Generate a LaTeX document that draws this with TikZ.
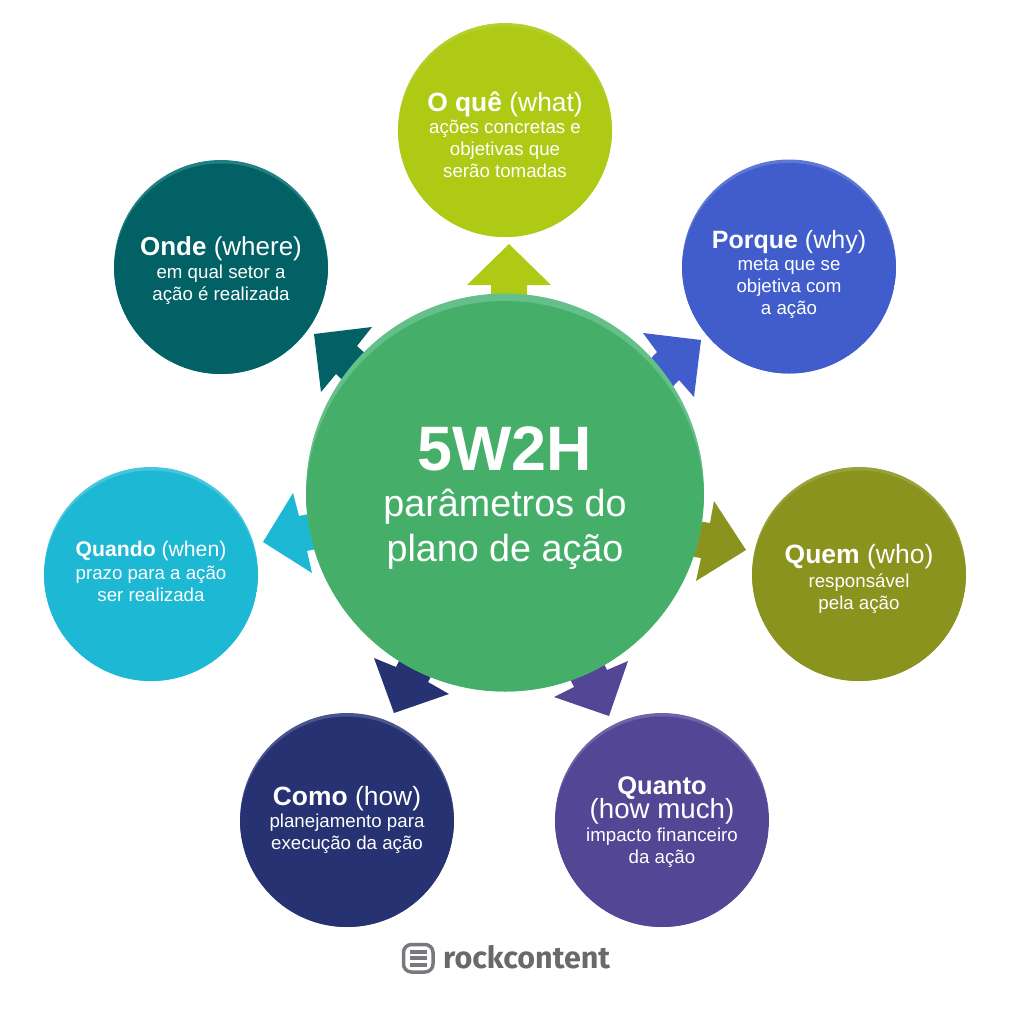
\documentclass[tikz,border=0pt]{standalone}
\usepackage{fontspec}
\setmainfont{Liberation Sans}
\newfontfamily\logofont{Fira Sans}
\lineskiplimit=-100pt
\tikzset{
  x=1pt,y=-1pt,
  txt/.style={text=white,align=center,anchor=north,inner sep=0pt,font=\fontsize{18.7}{22}\selectfont},
  disc/.style={circle,inner sep=0pt,minimum size=214pt},
}
\newcommand{\ttl}[2]{\rule{0pt}{30pt}\fontsize{#1}{22}\selectfont #2}
\definecolor{cwhat}{HTML}{AFCA14}\definecolor{rwhat}{HTML}{B6CE2E}
\definecolor{cwhy}{HTML}{405DCB}\definecolor{rwhy}{HTML}{5F78D6}
\definecolor{cwho}{HTML}{8A931E}\definecolor{rwho}{HTML}{99A13A}
\definecolor{cmuch}{HTML}{534695}\definecolor{rmuch}{HTML}{7063A8}
\definecolor{chow}{HTML}{263272}\definecolor{rhow}{HTML}{4A5590}
\definecolor{cwhen}{HTML}{1CB8D4}\definecolor{rwhen}{HTML}{45C6DE}
\definecolor{cwhere}{HTML}{026164}\definecolor{rwhere}{HTML}{208084}
\definecolor{cmain}{HTML}{45AF6A}\definecolor{rmain}{HTML}{65BF88}
\definecolor{logogray}{HTML}{68696B}
\definecolor{icongray}{HTML}{77797C}
% #1 name, #2 x, #3 y, #4 body colour, #5 rim colour
\newcommand{\disc}[5]{%
  \node[disc,fill=#5] (#1) at (#2,#3) {};
  \begin{scope}
    \clip (#2,#3) circle (107);
    \fill[#4] (#2,#3+3.5) circle (107);
  \end{scope}
}
\begin{document}
\begin{tikzpicture}
\useasboundingbox (0,0) rectangle (1010,1010);
% arrows
\fill[cwhat] (509,244) -- (551,285) -- (527,285) -- (527,310) -- (491,310) -- (491,285) -- (467,285) -- cycle;
\fill[cwhy] (701,340) -- (643,333) -- (657,352) -- (640,370) -- (662,398) -- (679,380) -- (694,397) -- cycle;
\fill[cwho] (746,550) -- (714,501) -- (710,523) -- (680,518) -- (682,555) -- (701,558) -- (696,581) -- cycle;
\fill[cmuch] (609,716) -- (628,661) -- (607,670) -- (597,650) -- (564,667) -- (574,687) -- (554,697) -- cycle;
\fill[chow] (394,713) -- (449,694) -- (428,682) -- (440,660) -- (408,644) -- (396,667) -- (374,658) -- cycle;
\fill[cwhen] (263,542) -- (312,573) -- (307,551) -- (330,546) -- (328,510) -- (299,516) -- (293,493) -- cycle;
\fill[cwhere] (314,334) -- (321,392) -- (336,374) -- (355,392) -- (378,365) -- (357,346) -- (372,327) -- cycle;
% main circle
\node[circle,inner sep=0pt,minimum size=398pt,fill=rmain] (main) at (505,492.5) {};
\begin{scope}
  \clip (505,492.5) circle (199);
  \fill[cmain] (505,500) circle (199);
\end{scope}
% satellites
\disc{what}{505}{130}{cwhat}{rwhat}
\disc{why}{789}{266.5}{cwhy}{rwhy}
\disc{who}{859}{574}{cwho}{rwho}
\disc{much}{662}{820}{cmuch}{rmuch}
\disc{how}{347}{820}{chow}{rhow}
\disc{when}{151}{574}{cwhen}{rwhen}
\disc{where}{221}{267}{cwhere}{rwhere}
% text
\node[txt] (twhat) at (505,81) {\ttl{26.4}{\textbf{O quê} (what)}\\[0.5pt]ações concretas e\\objetivas que\\serão tomadas};
\node[txt] (twhy) at (789,218) {\ttl{25}{\textbf{Porque} (why)}\\meta que se\\objetiva com\\a ação};
\node[txt] (twho) at (859,533) {\ttl{26.5}{\textbf{Quem} (who)}\\[2pt]responsável\\pela ação};
\node[txt] (tmuch) at (662,764) {\ttl{25.5}{\textbf{Quanto}}\\[2pt]\ttl{27.7}{(how much)}\\[1pt]impacto financeiro\\da ação};
\node[txt] (thow) at (347,775) {\ttl{26.4}{\textbf{Como} (how)}\\planejamento para\\execução da ação};
\node[txt] (twhen) at (151,526) {\ttl{21.2}{\textbf{Quando} (when)}\\[1pt]prazo para a ação\\ser realizada};
\node[txt] (twhere) at (221,225) {\ttl{26}{\textbf{Onde} (where)}\\[1pt]em qual setor a\\ação é realizada};
\node[text=white,align=center,anchor=north,inner sep=0pt,font=\fontsize{37.7}{45}\selectfont] (tmain) at (505,410)
  {\rule{0pt}{60pt}\fontsize{62.8}{45}\selectfont\textbf{5W2H}\\[1pt]parâmetros do\\plano de ação};
% logo
\draw[icongray,line width=3.5pt,rounded corners=8pt] (403.5,944.5) rectangle (433,972);
\foreach \yy in {951.5,958,964.5} \fill[icongray] (409.5,\yy-2) rectangle (427,\yy+2);
\node[anchor=west,inner sep=0pt,text=logogray,font=\logofont\fontsize{30.5}{31}\selectfont\bfseries] (logo) at (443,957) {rockcontent};
\end{tikzpicture}
\end{document}
